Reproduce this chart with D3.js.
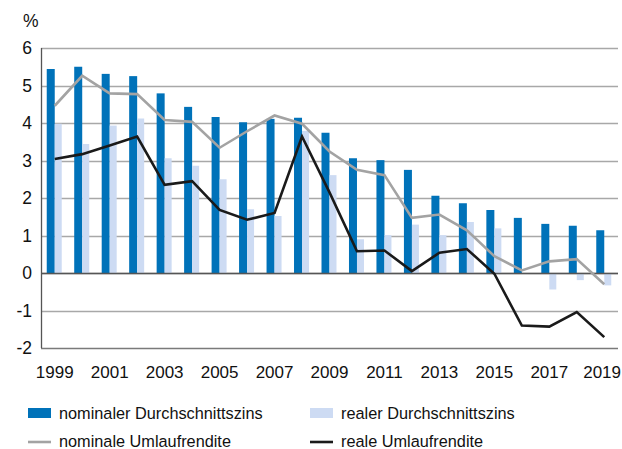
<!DOCTYPE html>
<html>
<head>
<meta charset="utf-8">
<script src="https://cdn.jsdelivr.net/npm/d3@7"></script>
<style>
  body { margin: 0; background: #fff; }
  svg { font-family: "Liberation Sans", Arial, sans-serif; }
</style>
</head>
<body>
<div id="chart"></div>
<script>
(function () {

    var years = d3.range(1999, 2020);
    var nominalZins = [5.44, 5.50, 5.31, 5.25, 4.79, 4.43, 4.16, 4.02, 4.11, 4.14, 3.74,
        3.06, 3.01, 2.75, 2.06, 1.86, 1.68, 1.47, 1.31, 1.26, 1.14];
    var realZins = [3.98, 3.44, 3.93, 4.12, 3.06, 2.86, 2.50, 1.70, 1.52, 3.79, 2.61,
        0.90, 1.01, 1.29, 1.01, 1.36, 1.19, 0.0, -0.44, -0.19, -0.33];
    var nominalRendite = [4.46, 5.26, 4.79, 4.77, 4.08, 4.03, 3.34, 3.78, 4.20, 3.98, 3.24,
        2.75, 2.61, 1.47, 1.56, 1.14, 0.45, 0.07, 0.31, 0.37, -0.30];
    var realRendite = [3.04, 3.17, 3.40, 3.64, 2.35, 2.45, 1.68, 1.42, 1.60, 3.64, 2.15,
        0.58, 0.60, 0.05, 0.54, 0.64, -0.02, -1.40, -1.43, -1.04, -1.71];
    var yTicks = [-2, -1, 0, 1, 2, 3, 4, 5, 6];

    var width = 622;
    var height = 449;
    var left = 41, right = 618, top = 48, bottom = 348;

    var blue = "#0072b9";
    var lightBlue = "#cddbf3";
    var grey = "#a3a3a3";
    var black = "#1a1a1a";

    var svg = d3.select("#chart").append("svg")
        .attr("width", width).attr("height", height);

    var x = d3.scaleBand().domain(years).range([left, right]).paddingInner(0).paddingOuter(0);
    var y = d3.scaleLinear().domain([-2, 6]).range([bottom, top]);
    var bw = 8;

    // gridlines
    svg.append("g").selectAll("line").data(yTicks).join("line")
        .attr("x1", left).attr("x2", right)
        .attr("y1", function (d) { return Math.round(y(d)) + 0.5; })
        .attr("y2", function (d) { return Math.round(y(d)) + 0.5; })
        .attr("stroke", function (d) { return d === -2 ? "#7a7a7a" : "#a8a8a8"; })
        .attr("stroke-width", 1.3);

    // bars
    svg.append("g").selectAll("rect").data(nominalZins).join("rect")
        .attr("x", function (d, i) { return x(years[i]) + x.bandwidth() / 2 - bw; })
        .attr("width", bw)
        .attr("y", function (d) { return y(Math.max(0, d)); })
        .attr("height", function (d) { return Math.abs(y(d) - y(0)); })
        .attr("fill", blue);

    svg.append("g").selectAll("rect").data(realZins).join("rect")
        .attr("x", function (d, i) { return x(years[i]) + x.bandwidth() / 2; })
        .attr("width", bw - 1)
        .attr("y", function (d) { return y(Math.max(0, d)); })
        .attr("height", function (d) { return Math.abs(y(d) - y(0)); })
        .attr("fill", lightBlue);

    // zero line + left axis
    svg.append("line")
        .attr("x1", left).attr("x2", right)
        .attr("y1", Math.round(y(0)) + 0.5).attr("y2", Math.round(y(0)) + 0.5)
        .attr("stroke", "#555").attr("stroke-width", 1.3);
    svg.append("line")
        .attr("x1", left + 0.5).attr("x2", left + 0.5)
        .attr("y1", y(6)).attr("y2", y(-2))
        .attr("stroke", "#555").attr("stroke-width", 1.3);

    var line = d3.line()
        .x(function (d, i) { return x(years[i]) + x.bandwidth() / 2; })
        .y(function (d) { return y(d); });

    svg.append("path").datum(nominalRendite)
        .attr("d", line).attr("fill", "none")
        .attr("stroke", grey).attr("stroke-width", 2.6);
    svg.append("path").datum(realRendite)
        .attr("d", line).attr("fill", "none")
        .attr("stroke", black).attr("stroke-width", 2.6);

    // y tick labels
    svg.append("g").selectAll("text").data(yTicks).join("text")
        .attr("x", 32)
        .attr("y", function (d) { return y(d) + 6; })
        .attr("text-anchor", "end")
        .attr("font-size", 17.5)
        .attr("fill", "#111")
        .text(function (d) { return d; });

    svg.append("text").attr("x", 23).attr("y", 27)
        .attr("font-size", 17.5).attr("fill", "#111").text("%");

    // x tick labels (last one kept inside the picture)
    svg.append("g").selectAll("text")
        .data(years.filter(function (d) { return d % 2 === 1; }))
        .join("text")
        .attr("y", 378)
        .attr("text-anchor", "middle")
        .attr("font-size", 17)
        .attr("fill", "#111")
        .text(function (d) { return d; })
        .attr("x", function (d) {
            var half = this.getComputedTextLength() / 2;
            return Math.min(x(d) + x.bandwidth() / 2, width - 1 - half);
        });

    // legend
    var legend = [
        { label: "nominaler Durchschnittszins", type: "rect", color: blue, lx: 28, ly: 413 },
        { label: "realer Durchschnittszins", type: "rect", color: lightBlue, lx: 310, ly: 413 },
        { label: "nominale Umlaufrendite", type: "line", color: grey, lx: 28, ly: 441 },
        { label: "reale Umlaufrendite", type: "line", color: black, lx: 310, ly: 441 }
    ];
    var lg = svg.append("g").selectAll("g").data(legend).join("g")
        .attr("transform", function (d) { return "translate(" + d.lx + "," + d.ly + ")"; });
    lg.filter(function (d) { return d.type === "rect"; }).append("rect")
        .attr("x", 0).attr("y", -5).attr("width", 23).attr("height", 10)
        .attr("fill", function (d) { return d.color; });
    lg.filter(function (d) { return d.type === "line"; }).append("line")
        .attr("x1", 0).attr("x2", 23).attr("y1", 1).attr("y2", 1)
        .attr("stroke", function (d) { return d.color; }).attr("stroke-width", 2.6);
    lg.append("text")
        .attr("x", 31).attr("y", 6)
        .attr("font-size", 16.3)
        .attr("fill", "#111")
        .text(function (d) { return d.label; });
})();
</script>
</body>
</html>
